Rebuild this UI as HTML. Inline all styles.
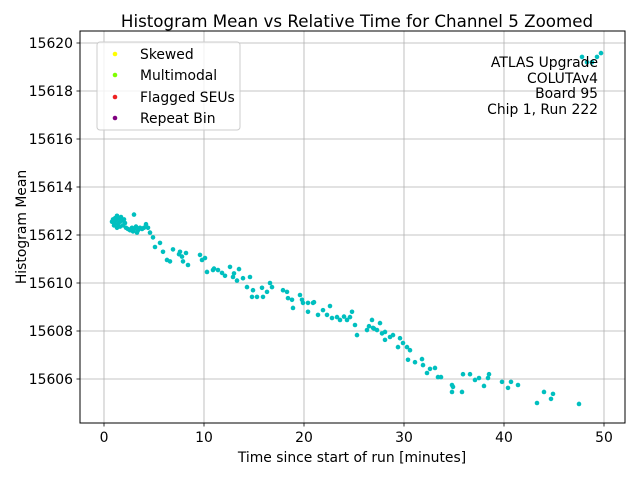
<!DOCTYPE html>
<html><head><meta charset="utf-8"><style>
body{margin:0;background:#fff;}
svg text{font-family:"DejaVu Sans","Liberation Sans",sans-serif;}
</style></head><body>
<svg id="chart" width="640" height="480" xmlns="http://www.w3.org/2000/svg">
<rect width="640" height="480" fill="#fff"/>
<g id="grid"></g>
<g id="points"></g>
<rect x="80" y="31" width="545" height="392" fill="none" stroke="#000" stroke-width="1"/>
<g id="ticks"></g>
<text x="357" y="27" font-size="16.7" text-anchor="middle">Histogram Mean vs Relative Time for Channel 5 Zoomed</text>
<text x="352" y="462" font-size="13.9" text-anchor="middle">Time since start of run [minutes]</text>
<text transform="translate(26,227) rotate(-90)" font-size="13.9" text-anchor="middle">Histogram Mean</text>
<g>
<rect x="97" y="42" width="143" height="88" rx="3" fill="#fff" fill-opacity="0.8" stroke="#ccc"/>
<circle cx="115" cy="54" r="2.3" fill="#ffff00"/><text x="140" y="59" font-size="13.9">Skewed</text>
<circle cx="115" cy="75" r="2.3" fill="#7fff00"/><text x="140" y="80" font-size="13.9">Multimodal</text>
<circle cx="115" cy="97" r="2.3" fill="#ee2222"/><text x="140" y="102" font-size="13.9">Flagged SEUs</text>
<circle cx="115" cy="118" r="2.3" fill="#800080"/><text x="140" y="123" font-size="13.9">Repeat Bin</text>
</g>
<g font-size="13.9" text-anchor="end">
<text x="598" y="67">ATLAS Upgrade</text>
<text x="598" y="83">COLUTAv4</text>
<text x="598" y="98">Board 95</text>
<text x="598" y="114">Chip 1, Run 222</text>
</g>
</svg>
<script>
const xTicks=[0,10,20,30,40,50];
const yTicks=[15606,15608,15610,15612,15614,15616,15618,15620];
const times=[0.8,0.9,1.0,1.1,1.2,1.3,1.4,1.5,1.6,1.7,1.8,1.9,2.0,2.1,1.0,1.3,1.6,2.2,2.4,2.6,2.8,3.0,3.2,3.4,3.6,3.8,4.0,4.2,4.4,3.0,2.9,3.3,
4.6,4.9,5.1,5.6,5.9,6.3,6.6,6.9,7.6,7.8,7.9,8.2,8.4,9.6,9.8,10.1,10.3,10.9,11.4,11.8,12.1,12.6,12.9,13.3,13.5,13.9,14.3,14.6,14.9,14.8,15.3,15.8,15.9,16.3,16.6,
16.8,17.9,18.3,18.4,18.8,18.9,19.6,19.8,19.9,20.4,20.9,20.4,21.4,21.9,22.6,22.3,22.8,23.3,23.6,24.3,24.8,24.6,25.1,25.3,26.3,26.8,26.9,27.3,27.6,28.1,28.1,28.6,28.9,29.6,29.4,29.9,30.3,30.6,30.4,31.1,31.8,31.9,32.3,32.6,33.1,33.4,33.7,
34.8,34.9,34.8,35.8,35.9,36.6,37.1,37.5,38.0,38.4,38.5,39.8,40.4,40.7,41.4,43.3,44.0,44.9,44.7,47.5,
47.8,48.3,48.8,49.3,49.7,26.5,27.0,27.8,24.0,21.0,13.0,11.0,7.5];
const means=[15612.55,15612.65,15612.5,15612.7,15612.6,15612.8,15612.45,15612.7,15612.55,15612.75,15612.6,15612.4,15612.65,15612.5,15612.4,15612.3,15612.35,15612.3,15612.25,15612.2,15612.3,15612.25,15612.35,15612.2,15612.3,15612.25,15612.3,15612.45,15612.3,15612.85,15612.15,15612.1,
15612.1,15611.9,15611.5,15611.67,15611.3,15610.96,15610.9,15611.4,15611.3,15611.1,15610.9,15611.25,15610.75,15611.17,15610.96,15611.04,15610.46,15610.54,15610.54,15610.42,15610.3,15610.67,15610.25,15610.1,15610.58,15610.2,15609.83,15610.25,15609.7,15609.42,15609.42,15609.8,15609.42,15609.63,15610.0,
15609.83,15609.7,15609.63,15609.37,15609.3,15608.96,15609.5,15609.3,15609.17,15609.17,15609.17,15608.8,15608.67,15608.87,15609.04,15608.67,15608.54,15608.58,15608.46,15608.46,15608.8,15608.58,15608.25,15607.83,15608.04,15608.46,15608.13,15608.04,15608.33,15607.96,15607.63,15607.75,15607.83,15607.7,15607.33,15607.5,15607.33,15607.2,15606.8,15606.7,15606.83,15606.58,15606.25,15606.42,15606.46,15606.08,15606.08,
15605.75,15605.67,15605.46,15605.46,15606.2,15606.2,15605.96,15606.04,15605.71,15606.04,15606.2,15605.88,15605.63,15605.88,15605.75,15605.0,15605.46,15605.38,15605.17,15604.96,
15619.42,15619.2,15619.2,15619.42,15619.58,15608.2,15608.1,15607.9,15608.6,15609.2,15610.4,15610.6,15611.2];
const NS='http://www.w3.org/2000/svg';
const X=t=>104+t*10;
const Y=v=>43+(15620-v)*24;
const grid=document.getElementById('grid'),ticks=document.getElementById('ticks'),pts=document.getElementById('points');
function mk(tag,attrs,parent){const e=document.createElementNS(NS,tag);for(const k in attrs)e.setAttribute(k,attrs[k]);parent.appendChild(e);return e;}
xTicks.forEach(t=>{
 const g=mk('line',{x1:X(t),x2:X(t),y1:31,y2:423,stroke:'#b0b0b0','stroke-width':0.8},grid);
 
 
 mk('line',{x1:X(t),x2:X(t),y1:423,y2:426.5,stroke:'#000','stroke-width':0.8},ticks);
 const tx=mk('text',{x:X(t),y:442,'font-size':13.9,'text-anchor':'middle'},ticks);tx.textContent=t;
 
 
});
yTicks.forEach(v=>{
 const g=mk('line',{x1:80,x2:625,y1:Y(v),y2:Y(v),stroke:'#b0b0b0','stroke-width':0.8},grid);
 
 
 mk('line',{x1:76.5,x2:80,y1:Y(v),y2:Y(v),stroke:'#000','stroke-width':0.8},ticks);
 const tx=mk('text',{x:73,y:Y(v)+5,'font-size':13.9,'text-anchor':'end'},ticks);tx.textContent=v;
 
 
});
times.forEach((t,i)=>{
 const c=mk('circle',{cx:X(t),cy:Y(means[i]),r:2.3,fill:'#00bfbf'},pts);
 
 
});
</script>
</body></html>
